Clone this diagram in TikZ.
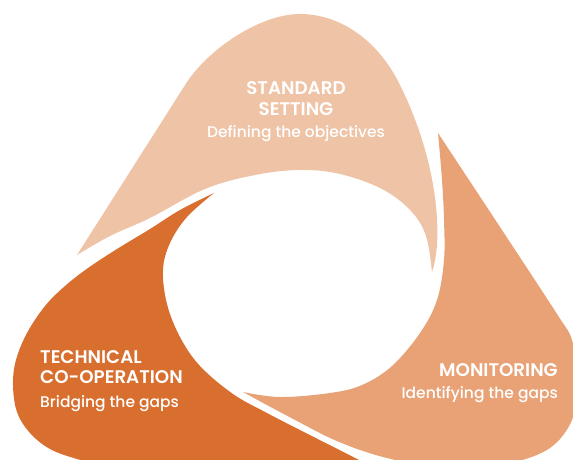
\documentclass[tikz,border=0pt]{standalone}
\usepackage{fontspec}
\setmainfont{Poppins}
\newfontfamily\headfont{Poppins SemiBold}
\newfontfamily\subfont{Poppins Medium}
\definecolor{standardc}{HTML}{EFC3A6}
\definecolor{monitorc}{HTML}{E8A276}
\definecolor{techc}{HTML}{D96F2F}
\tikzset{
  head/.style={text=white, font=\headfont\fontsize{18.3}{20}\selectfont, inner sep=0pt},
  sub/.style={text=white, font=\subfont\fontsize{15.5}{18}\selectfont, inner sep=0pt},
}
\begin{document}
\begin{tikzpicture}[x=1pt,y=-1pt]
  \useasboundingbox (0,0) rectangle (573,460);
  \clip (0,0) rectangle (573,460);
  % standard setting
  \fill[standardc] (77,255) -- (187,82) .. controls (209,49) and (260,14) .. (300,14)
    .. controls (340,14) and (378,40) .. (400,85)
    .. controls (425,135) and (440,195) .. (437,245)
    .. controls (436,258) and (434,266) .. (432,272)
    -- plot[smooth,tension=0.6] coordinates {(432,272) (426,236) (411,211) (382,189) (340,174) (300,170) (255,175) (205,189) (150,218) (110,236) (77,255)} -- cycle;
  % technical co-operation
  \fill[techc] plot[smooth,tension=0.6] coordinates {(214,193) (180,210) (150,229) (117,249) (88,268) (65,286) (45,306) (27,333) (16,360) (13,385) (17,412) (30,433) (50,449) (77,459) (120,470)}
    -- (120,500) -- (420,500)
    -- plot[smooth,tension=0.6] coordinates {(420,492) (363,462) (300,430) (267,413) (233,394) (200,366) (180,337) (167,304) (163,270) (170,243) (187,217) (214,193)} -- cycle;
  % monitoring
  \fill[monitorc] plot[smooth,tension=0.55] coordinates {(438,133) (500,227) (557,314) (572,340) (578,380) (572,420) (550,448) (510,463) (450,468) (400,461) (363,451) (330,438) (297,421) (265,404) (243,392)}
    -- plot[smooth,tension=0.6] coordinates {(243,392) (280,397) (330,393) (362,385) (392,366) (420,333) (437,300) (444,260) (444,220) (442,180) (438,133)} -- cycle;
  % labels
  \node[head,anchor=base] (std1) at (296,94) {STANDARD};
  \node[head,anchor=base] (std2) at (296,115) {SETTING};
  \node[sub,anchor=base] (stdsub) at (296,137) {Defining the objectives};
  \node[head,anchor=base west] (tech1) at (40,363) {TECHNICAL};
  \node[head,anchor=base west] (tech2) at (40,383) {CO-OPERATION};
  \node[sub,anchor=base west] (techsub) at (40,407) {Bridging the gaps};
  \node[head,anchor=base east] (mon) at (558,376) {MONITORING};
  \node[sub,anchor=base east] (monsub) at (558,398) {Identifying the gaps};
\end{tikzpicture}
\end{document}
